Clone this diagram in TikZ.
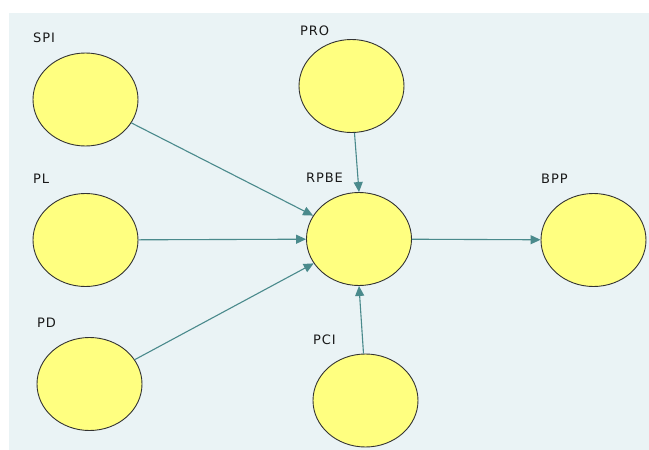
\documentclass[tikz,border=0pt]{standalone}
\usepackage{fontspec}
\setmainfont{DejaVu Sans}
\usetikzlibrary{arrows.meta}
\definecolor{panel}{RGB}{234,243,245}
\definecolor{lv}{RGB}{255,255,128}
\definecolor{edge}{RGB}{74,138,140}
\tikzset{
  lvnode/.style={ellipse, draw=black!80, line width=0.9pt, fill=lv, minimum width=105pt, minimum height=93pt, inner sep=0pt},
  lbl/.style={anchor=base west, inner sep=0pt, font=\fontsize{13}{15}\selectfont\addfontfeature{LetterSpace=7}, text=black!90},
  conn/.style={draw=edge, line width=1.1pt, -{Triangle[length=10pt,width=9pt]}}
}
\usetikzlibrary{shapes.geometric}
\begin{document}
\begin{tikzpicture}[x=1pt,y=-1pt]
\useasboundingbox (0,0) rectangle (649,450);
\fill[panel] (9,13) rectangle (649,450);
\node[lvnode] (SPI) at (85.5,99.5) {};
\node[lvnode] (PL) at (85.5,240) {};
\node[lvnode] (PD) at (89.5,384) {};
\node[lvnode] (PRO) at (351.5,86) {};
\node[lvnode] (RPBE) at (359,239) {};
\node[lvnode] (PCI) at (365.5,400.5) {};
\node[lvnode] (BPP) at (593.5,240) {};
\node[lbl] (tSPI) at (33,42) {SPI};
\node[lbl] (tPL) at (33,183) {PL};
\node[lbl] (tPD) at (37,327) {PD};
\node[lbl] (tPRO) at (300,35) {PRO};
\node[lbl] (tRPBE) at (306,182) {RPBE};
\node[lbl] (tPCI) at (313,344) {PCI};
\node[lbl] (tBPP) at (541,183) {BPP};
\draw[conn] (SPI) -- (RPBE);
\draw[conn] (PL) -- (RPBE);
\draw[conn] (PD) -- (RPBE);
\draw[conn] (PRO.south) ++(3,0) coordinate (proS) -- (RPBE.north);
\draw[conn] (PCI.north) ++(-2,0) coordinate (pciN) -- (RPBE.south);
\draw[conn] (RPBE) -- (BPP);
\end{tikzpicture}
\end{document}
